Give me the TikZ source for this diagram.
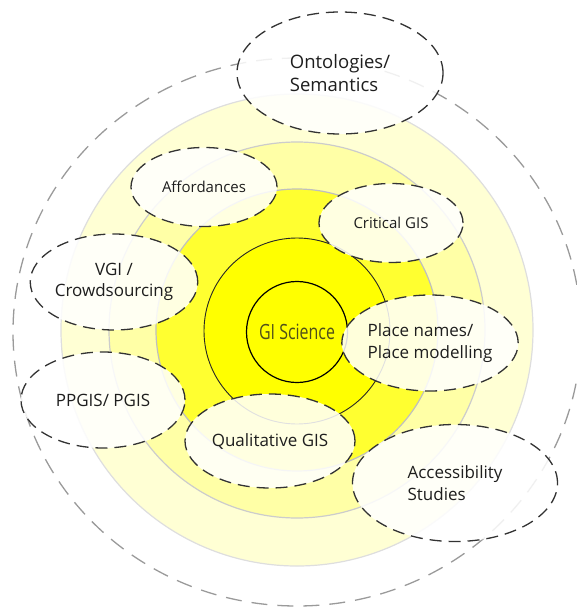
\documentclass[tikz,border=0pt]{standalone}
\usepackage{fontspec}
\setmainfont{Open Sans}
\usetikzlibrary{shapes.geometric}
\definecolor{ringA}{HTML}{FFFFD4}
\definecolor{ringB}{HTML}{FFFFA6}
\definecolor{ringC}{HTML}{FFFF30}
\definecolor{core}{HTML}{FFFF00}
\definecolor{txt}{HTML}{1E1E1E}
\definecolor{gitxt}{HTML}{50501A}
\definecolor{dashgrey}{HTML}{9A9A9A}
\definecolor{dashdark}{HTML}{333333}
\begin{document}
\begin{tikzpicture}[x=1pt,y=-1pt,
  topic/.style={ellipse, draw=dashdark, dash pattern=on 12pt off 7pt, line width=1.3pt,
    fill=white, fill opacity=0.86, text opacity=1, text=txt, inner sep=0pt, align=left},
  fsA/.style={font=\fontsize{18.5}{23}\selectfont},
  fsB/.style={font=\fontsize{17}{21.5}\selectfont},
  fsC/.style={font=\fontsize{15}{19}\selectfont}]
\useasboundingbox (0,0) rectangle (577,607);
% outer dashed boundary
\draw[dashgrey, line width=1.3pt, dash pattern=on 16pt off 10pt] (297,332) ellipse [x radius=284, y radius=274];
% concentric rings
\fill[ringA] (297,330) circle (236);
\draw[black!13, line width=1.2pt] (297,330) circle (236);
\fill[ringB] (297,330) circle (188);
\draw[black!20, line width=1.2pt] (297,330) circle (188);
\fill[ringC] (297,330) circle (141);
\draw[black!25, line width=1.2pt] (297,330) circle (141);
\fill[core] (297,331) circle (93);
\draw[black!85, line width=0.9pt] (297,331) circle (93);
\node[circle, draw=black, line width=1.2pt, minimum size=101pt, inner sep=0pt, fill=core,
      text=gitxt, font=\fontsize{21}{24}\selectfont] (gis) at (297,332)
      {\scalebox{0.76}[1]{GI Science}};
% topic ellipses
\node[topic, fsA, minimum width=206pt, minimum height=122pt] (onto) at (340,73) {Ontologies/\\Semantics};
\node[topic, fsC, minimum width=146pt, minimum height=79pt] (aff) at (204,187) {Affordances};
\node[topic, fsC, minimum width=144pt, minimum height=79pt] (crit) at (391,223) {Critical GIS};
\node[topic, fsB, minimum width=165pt, minimum height=96pt, align=center] (vgi) at (114,282) {VGI /\\Crowdsourcing};
\node[topic, fsB, minimum width=164pt, minimum height=96pt] (ppgis) at (103,400) {PPGIS/ PGIS};
\node[topic, fsB, minimum width=166pt, minimum height=96pt] (place) at (430,343) {Place names/\\Place modelling};
\node[topic, fsB, minimum width=170pt, minimum height=94pt] (qual) at (270,441) {Qualitative GIS};
\node[topic, fsB, minimum width=205pt, minimum height=117pt] (acc) at (455,483) {Accessibility\\Studies};
\end{tikzpicture}
\end{document}
